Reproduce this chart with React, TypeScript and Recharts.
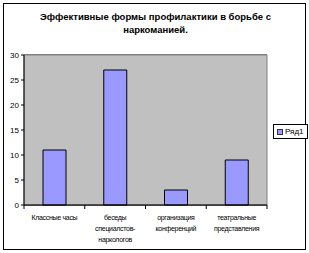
import React from "react";
import { Bar, BarChart, CartesianGrid, ReferenceArea, XAxis, YAxis } from "recharts";

const categories = [
  "Классные часы",
  "беседы\nспециалстов-\nнаркологов",
  "организация\nконференций",
  "театральные\nпредставления",
];
const series1 = [11, 27, 3, 9];
const yTicks = [0, 5, 10, 15, 20, 25, 30];
const seriesName = "Ряд1";
const title = ["Эффективные формы профилактики в борьбе с", "наркоманией."];

const data = categories.map((c, i) => ({ name: c, value: series1[i] }));

const font = "'Liberation Sans', Arial, sans-serif";
const plotLeft = 24;
const plotRight = 267;
const band = (plotRight - plotLeft) / categories.length;

function CategoryTick(props: any) {
  const { x, y, payload, index } = props;
  const lines = String(payload.value).split("\n");
  const left = x - band / 2;
  return (
    <g>
      <line x1={left} y1={y - 8} x2={left} y2={y - 4} stroke="#000" />
      {index === categories.length - 1 && (
        <line x1={left + band} y1={y - 8} x2={left + band} y2={y - 4} stroke="#000" />
      )}
      <text x={x} y={y + 7} textAnchor="middle" fontSize={7} letterSpacing={-0.3} fontFamily={font} fill="#000">
        {lines.map((l, i) => (
          <tspan key={i} x={x} dy={i === 0 ? 0 : 11}>
            {l}
          </tspan>
        ))}
      </text>
    </g>
  );
}

export default function App() {
  return (
    <div style={{ position: "absolute", left: 0, top: 0, width: 309, height: 253, background: "#fff" }}>
      <div
        style={{
          position: "absolute",
          left: 3,
          top: 3,
          width: 303,
          height: 247,
          border: "1px solid #000",
          boxSizing: "border-box",
        }}
      />
      <div
        style={{
          position: "absolute",
          left: 0,
          top: 10,
          width: 311,
          textAlign: "center",
          fontFamily: font,
          fontWeight: "bold",
          fontSize: 9.5,
          lineHeight: "13px",
          color: "#000",
        }}
      >
        {title.map((t, i) => (
          <div key={i}>{t}</div>
        ))}
      </div>
      <BarChart
        width={309}
        height={253}
        data={data}
        margin={{ top: 55, right: 309 - plotRight, bottom: 0, left: 0 }}
        barSize={23}
      >
        <ReferenceArea y1={0} y2={30} fill="#C0C0C0" fillOpacity={1} stroke="#808080" ifOverflow="visible" />
        <CartesianGrid vertical={false} stroke="#000" strokeOpacity={1} />
        <XAxis
          dataKey="name"
          height={48}
          interval={0}
          tickLine={false}
          axisLine={{ stroke: "#000" }}
          tick={<CategoryTick />}
        />
        <YAxis
          width={plotLeft}
          domain={[0, 30]}
          ticks={yTicks}
          interval={0}
          tickSize={3}
          tickLine={{ stroke: "#000" }}
          axisLine={{ stroke: "#000" }}
          tick={{ fontSize: 8, fontFamily: font, fill: "#000" }}
        />
        <Bar dataKey="value" name={seriesName} fill="#9999FF" stroke="#000" strokeWidth={1} isAnimationActive={false} />
      </BarChart>
      <div
        style={{
          position: "absolute",
          left: 273,
          top: 124,
          border: "1px solid #000",
          background: "#fff",
          padding: "1px 3px",
          display: "flex",
          alignItems: "center",
          gap: 2,
          fontFamily: font,
          fontSize: 8,
          color: "#000",
          lineHeight: "11px",
        }}
      >
        <span style={{ width: 4, height: 4, background: "#9999FF", border: "1px solid #333" }} />
        <span>{seriesName}</span>
      </div>
    </div>
  );
}
